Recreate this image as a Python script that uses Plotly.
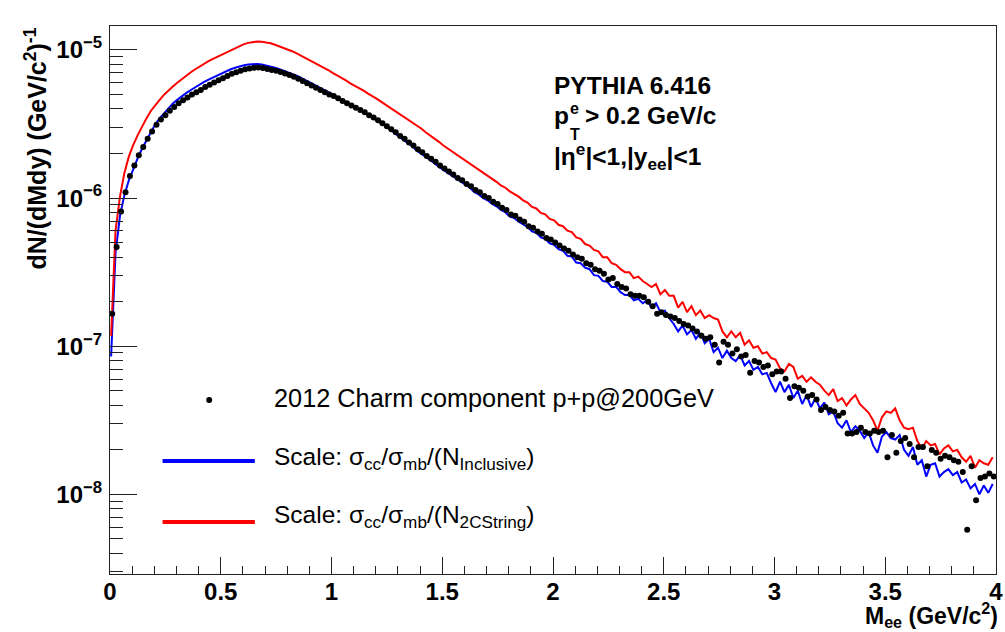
import plotly.graph_objects as go

# ---------------- data (values are log10 of dN/(dMdy)) ----------------
n_bins = 200
dots_mass = [round(0.01 + 0.02 * k, 3) for k in range(n_bins)]    # bin centres of the 2012 charm points
line_mass = [round(0.005 + 0.02 * k, 3) for k in range(n_bins)]   # sampling of the two PYTHIA curves

charm_2012_log10 = [
    -6.78, -6.33, -6.09, -5.96, -5.85, -5.78, -5.71, -5.655, -5.60, -5.55,
    -5.505, -5.47, -5.44, -5.41, -5.385, -5.36, -5.34, -5.32, -5.30, -5.285,
    -5.27, -5.25, -5.235, -5.22, -5.205, -5.19, -5.175, -5.16, -5.15, -5.14,
    -5.13, -5.125, -5.12, -5.118, -5.122, -5.128, -5.135, -5.14, -5.148, -5.158,
    -5.168, -5.18, -5.195, -5.21, -5.225, -5.24, -5.255, -5.27, -5.285, -5.30,
    -5.31, -5.325, -5.345, -5.36, -5.375, -5.39, -5.405, -5.42, -5.44, -5.455,
    -5.475, -5.495, -5.515, -5.535, -5.555, -5.58, -5.60, -5.625, -5.645, -5.67,
    -5.69, -5.715, -5.735, -5.755, -5.78, -5.80, -5.82, -5.84, -5.865, -5.88,
    -5.905, -5.92, -5.945, -5.96, -5.985, -6.00, -6.025, -6.04, -6.065, -6.08,
    -6.11, -6.12, -6.145, -6.16, -6.19, -6.20, -6.225, -6.24, -6.27, -6.28,
    -6.30, -6.32, -6.34, -6.355, -6.38, -6.40, -6.41, -6.44, -6.45, -6.48,
    -6.49, -6.51, -6.55, -6.54, -6.58, -6.60, -6.61, -6.65, -6.66, -6.66,
    -6.67, -6.70, -6.73, -6.78, -6.77, -6.79, -6.80, -6.81, -6.83, -6.85,
    -6.86, -6.88, -6.90, -6.93, -6.95, -6.94, -6.99, -7.11, -6.97, -6.99,
    -7.05, -7.02, -7.07, -7.06, -7.18, -7.10, -7.11, -7.14, -7.13, -7.19,
    -7.17, -7.17, -7.22, -7.35, -7.27, -7.28, -7.30, -7.34, -7.33, -7.36,
    -7.43, -7.41, -7.43, -7.44, -7.47, -7.45, -7.59, -7.59, -7.58, -7.55,
    -7.58, -7.59, -7.57, -7.58, -7.57, -7.75, -7.60, -7.72, -7.64, -7.62,
    -7.66, -7.75, -7.68, -7.68, -7.81, -7.70, -7.72, -7.76, -7.74, -7.75,
    -7.77, -7.78, -7.85, -8.24, -7.81, -8.04, -7.89, -7.88, -7.86, -7.88,
]

inclusive_log10 = [
    -7.07, -6.37, -6.12, -5.98, -5.88, -5.80, -5.73, -5.665, -5.61, -5.555,
    -5.50, -5.46, -5.425, -5.39, -5.36, -5.335, -5.31, -5.29, -5.27, -5.25,
    -5.23, -5.215, -5.20, -5.185, -5.17, -5.155, -5.142, -5.13, -5.12, -5.11,
    -5.103, -5.098, -5.095, -5.095, -5.098, -5.104, -5.11, -5.12, -5.13, -5.14,
    -5.15, -5.162, -5.175, -5.19, -5.205, -5.22, -5.235, -5.25, -5.267, -5.285,
    -5.30, -5.318, -5.333, -5.35, -5.368, -5.385, -5.40, -5.42, -5.437, -5.455,
    -5.475, -5.495, -5.515, -5.535, -5.56, -5.585, -5.61, -5.63, -5.65, -5.68,
    -5.70, -5.72, -5.745, -5.765, -5.79, -5.81, -5.83, -5.855, -5.87, -5.895,
    -5.915, -5.93, -5.96, -5.975, -6.00, -6.015, -6.04, -6.055, -6.08, -6.095,
    -6.125, -6.135, -6.16, -6.18, -6.195, -6.225, -6.235, -6.265, -6.275, -6.305,
    -6.315, -6.345, -6.355, -6.39, -6.395, -6.435, -6.44, -6.47, -6.48, -6.52,
    -6.525, -6.56, -6.565, -6.60, -6.60, -6.635, -6.655, -6.655, -6.69, -6.68,
    -6.71, -6.69, -6.74, -6.71, -6.77, -6.76, -6.81, -6.85, -6.90, -6.86,
    -6.92, -6.89, -6.95, -6.91, -6.98, -6.95, -7.04, -7.01, -7.08, -7.03,
    -7.08, -7.10, -7.06, -7.13, -7.10, -7.16, -7.14, -7.19, -7.18, -7.25,
    -7.31, -7.24, -7.31, -7.26, -7.35, -7.30, -7.39, -7.33, -7.41, -7.35,
    -7.42, -7.38, -7.46, -7.44, -7.52, -7.55, -7.50, -7.58, -7.54, -7.57,
    -7.62, -7.58, -7.67, -7.72, -7.61, -7.58, -7.62, -7.63, -7.60, -7.70,
    -7.74, -7.68, -7.80, -7.77, -7.88, -7.80, -7.79, -7.88, -7.85, -7.83,
    -7.87, -7.85, -7.92, -7.90, -7.96, -7.93, -8.00, -7.94, -7.99, -7.93,
]

string2c_log10 = [
    -6.93, -6.22, -5.99, -5.83, -5.72, -5.64, -5.575, -5.515, -5.46, -5.41,
    -5.37, -5.335, -5.30, -5.27, -5.245, -5.22, -5.195, -5.17, -5.15, -5.13,
    -5.11, -5.09, -5.075, -5.06, -5.045, -5.03, -5.015, -5.00, -4.985, -4.97,
    -4.96, -4.952, -4.945, -4.942, -4.944, -4.948, -4.955, -4.965, -4.975, -4.985,
    -4.995, -5.01, -5.025, -5.04, -5.055, -5.07, -5.085, -5.10, -5.12, -5.135,
    -5.155, -5.17, -5.19, -5.205, -5.225, -5.24, -5.26, -5.275, -5.295, -5.31,
    -5.33, -5.35, -5.37, -5.385, -5.41, -5.43, -5.445, -5.47, -5.49, -5.51,
    -5.53, -5.555, -5.575, -5.60, -5.62, -5.645, -5.665, -5.685, -5.71, -5.725,
    -5.75, -5.77, -5.79, -5.81, -5.83, -5.85, -5.87, -5.89, -5.915, -5.93,
    -5.955, -5.97, -5.99, -6.015, -6.03, -6.06, -6.07, -6.10, -6.11, -6.14,
    -6.15, -6.18, -6.19, -6.22, -6.23, -6.265, -6.275, -6.31, -6.32, -6.35,
    -6.36, -6.40, -6.40, -6.44, -6.45, -6.48, -6.50, -6.50, -6.54, -6.53,
    -6.56, -6.58, -6.60, -6.58, -6.65, -6.62, -6.66, -6.66, -6.74, -6.70,
    -6.77, -6.73, -6.79, -6.76, -6.81, -6.79, -6.81, -6.82, -6.90, -6.94,
    -6.90, -6.94, -6.91, -6.99, -6.96, -7.01, -7.00, -7.05, -7.04, -7.08,
    -7.09, -7.15, -7.17, -7.12, -7.14, -7.22, -7.20, -7.24, -7.21, -7.24,
    -7.26, -7.30, -7.33, -7.29, -7.37, -7.35, -7.40, -7.36, -7.33, -7.39,
    -7.42, -7.45, -7.50, -7.57, -7.48, -7.44, -7.45, -7.42, -7.50, -7.55,
    -7.56, -7.55, -7.64, -7.69, -7.64, -7.67, -7.66, -7.73, -7.69, -7.67,
    -7.71, -7.70, -7.75, -7.78, -7.74, -7.82, -7.77, -7.79, -7.80, -7.75,
]

x_tick_vals = [0, 0.5, 1, 1.5, 2, 2.5, 3, 3.5, 4]
x_tick_text = ["0", "0.5", "1", "1.5", "2", "2.5", "3", "3.5", "4"]
y_tick_vals = [1e-8, 1e-7, 1e-6, 1e-5]
y_tick_text = ["10<sup>\u22128</sup>", "10<sup>\u22127</sup>", "10<sup>\u22126</sup>", "10<sup>\u22125</sup>"]
y_minor_vals = [m * 10.0 ** e for e in (-9, -8, -7, -6, -5) for m in range(2, 10)]

legend_labels = [
    "2012 Charm component p+p@200GeV",
    "Scale: \u03c3<sub>cc</sub>/\u03c3<sub>mb</sub>/(N<sub>Inclusive</sub>)",
    "Scale: \u03c3<sub>cc</sub>/\u03c3<sub>mb</sub>/(N<sub>2CString</sub>)",
]

# ---------------- figure ----------------
charm = [10.0 ** v for v in charm_2012_log10]
inclusive = [10.0 ** v for v in inclusive_log10]
string2c = [10.0 ** v for v in string2c_log10]

FONT = "Liberation Sans, Arial, Helvetica, sans-serif"
W, H = 1005, 632
L, R, T, B = 110, 2, 26, 58
PW, PH = W - L - R, H - T - B


def px(xp):
    return (xp - L) / PW


def py(yp):
    return (H - B - yp) / PH


def note(text, x, y, size, xanchor="left", yanchor="middle", **kw):
    return dict(text=text, xref="paper", yref="paper", x=px(x), y=py(y),
                xanchor=xanchor, yanchor=yanchor, showarrow=False, borderpad=0,
                font=dict(family=FONT, size=size, color="black"), **kw)


fig = go.Figure()
fig.add_trace(go.Scatter(x=line_mass, y=inclusive, mode="lines",
                         line=dict(color="#0000ff", width=2), name=legend_labels[1]))
fig.add_trace(go.Scatter(x=line_mass, y=string2c, mode="lines",
                         line=dict(color="#ff0000", width=2), name=legend_labels[2]))
fig.add_trace(go.Scatter(x=dots_mass, y=charm, mode="markers",
                         marker=dict(color="black", size=6), name=legend_labels[0]))

fig.update_layout(
    width=W, height=H,
    margin=dict(l=L, r=R, t=T, b=B, pad=0),
    paper_bgcolor="white", plot_bgcolor="white",
    showlegend=False,
    font=dict(family=FONT, color="black"),
    xaxis=dict(
        range=[0, 4], tickmode="array", tickvals=x_tick_vals, ticktext=x_tick_text,
        ticks="inside", ticklen=17, tickwidth=1, tickcolor="#222",
        showline=True, linecolor="#222", linewidth=1, mirror=True,
        showgrid=False, zeroline=False,
        tickfont=dict(family=FONT, size=24, weight="bold", color="black"),
        ticklabeloverflow="allow", ticklabelstandoff=-4,
        minor=dict(tickmode="linear", tick0=0, dtick=0.1, ticks="inside",
                   ticklen=8, tickwidth=1, tickcolor="#222", showgrid=False),
    ),
    yaxis=dict(
        type="log", range=[-8.538, -4.838], tickmode="array",
        tickvals=y_tick_vals, ticktext=y_tick_text,
        ticks="inside", ticklen=27, tickwidth=1, tickcolor="#222",
        showline=True, linecolor="#222", linewidth=1, mirror=True,
        showgrid=False, zeroline=False,
        tickfont=dict(family=FONT, size=24, weight="bold", color="black"),
        ticklabelstandoff=2,
        minor=dict(tickmode="array", tickvals=y_minor_vals, ticks="inside",
                   ticklen=13, tickwidth=1, tickcolor="#222", showgrid=False),
    ),
)

ann = [
    # axis titles
    note("<b>dN/(dMdy) (GeV/c<sup>2</sup>)<sup>-1</sup></b>", 35, 27, 25,
         xanchor="center", yanchor="top", textangle=-90),
    note("<b>M<sub>ee</sub> (GeV/c<sup>2</sup>)</b>", 1006, 615, 23, xanchor="right"),
    # PYTHIA info block
    note("<b>PYTHIA 6.416</b>", 557, 86, 24.5),
    note("<b>p</b>", 556, 116, 24.5),
    note("<b>e</b>", 573, 109, 16),
    note("<b>T</b>", 573, 134, 16),
    note("<b>> 0.2 GeV/c</b>", 588, 116, 24.5),
    note("<b>|\u03b7<sup>e</sup>|<1,|y<sub>ee</sub>|<1</b>", 557, 157, 24.5),
    # legend entries
    note(legend_labels[0], 274, 398, 25.3),
    note(legend_labels[1], 274, 458, 24.5),
    note(legend_labels[2], 274, 516, 24.5),
]
fig.update_layout(annotations=ann)

shapes = [
    dict(type="circle", xref="paper", yref="paper", x0=px(207), x1=px(213), y0=py(397), y1=py(403),
         fillcolor="black", line=dict(color="black", width=0)),
    dict(type="line", xref="paper", yref="paper", x0=px(163), x1=px(256), y0=py(461), y1=py(461),
         line=dict(color="#0000ff", width=4)),
    dict(type="line", xref="paper", yref="paper", x0=px(163), x1=px(256), y0=py(522), y1=py(522),
         line=dict(color="#ff0000", width=4)),
]
fig.update_layout(shapes=shapes)

fig.write_html("out.html")
